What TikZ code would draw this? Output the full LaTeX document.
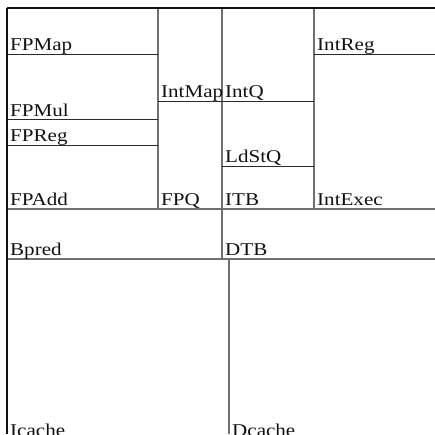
\documentclass[tikz,border=0pt]{standalone}
\usepackage{fontspec}
\usepackage{xcolor}
\usepackage{tikz}
\newfontfamily\unitfont[FakeStretch=1.17]{Liberation Serif}
\definecolor{ink}{HTML}{111111}
\definecolor{cellrule}{HTML}{2A2A2A}
\definecolor{colrule}{HTML}{707070}
\tikzset{
  unitlbl/.style={anchor=base west, inner sep=0pt, font=\unitfont\fontsize{18}{20}\selectfont, text=ink},
  edge/.style={draw=ink, line width=1.1pt},
  hrule/.style={draw=cellrule, line width=1pt},
  vrule/.style={draw=colrule, line width=1.4pt},
  brule/.style={draw=colrule, line width=1.2pt},
}
\begin{document}
\begin{tikzpicture}[x=1pt, y=-1pt]
  \useasboundingbox (0,0) rectangle (435,434);
  \clip (0,0) rectangle (435,434);
  % x = left, y = baseline, text
  \newcommand{\unitlabel}[3]{\node[unitlbl] (#3) at (#1,#2) {#3};}
  % column rules
  \draw[vrule] (158,8) -- (158,209);
  \draw[vrule] (222,8) -- (222,259);
  \draw[vrule] (314,8) -- (314,209);
  \draw[vrule] (229,259) -- (229,434);
  % cell rules
  \draw[hrule] (7,54) -- (158,54);
  \draw[hrule] (7,119) -- (158,119);
  \draw[hrule] (7,145) -- (158,145);
  \draw[hrule] (158,101) -- (314,101);
  \draw[hrule] (222,166) -- (314,166);
  \draw[hrule] (314,54) -- (435,54);
  \draw[brule] (7,209) -- (435,209);
  \draw[brule] (7,259) -- (435,259);
  % outer edge
  \draw[edge, line width=2pt] (7,8) -- (435,8);
  \draw[edge] (7,8) -- (7,434);
  \unitlabel{10}{50}{FPMap}
  \unitlabel{10}{116}{FPMul}
  \unitlabel{10}{141}{FPReg}
  \unitlabel{10}{205}{FPAdd}
  \unitlabel{161}{97}{IntMap}
  \unitlabel{161}{205}{FPQ}
  \unitlabel{225}{97}{IntQ}
  \unitlabel{225}{162}{LdStQ}
  \unitlabel{225}{205}{ITB}
  \unitlabel{317}{50}{IntReg}
  \unitlabel{317}{205}{IntExec}
  \unitlabel{10}{255}{Bpred}
  \unitlabel{225}{255}{DTB}
  \unitlabel{10}{436}{Icache}
  \unitlabel{232}{436}{Dcache}
\end{tikzpicture}
\end{document}
